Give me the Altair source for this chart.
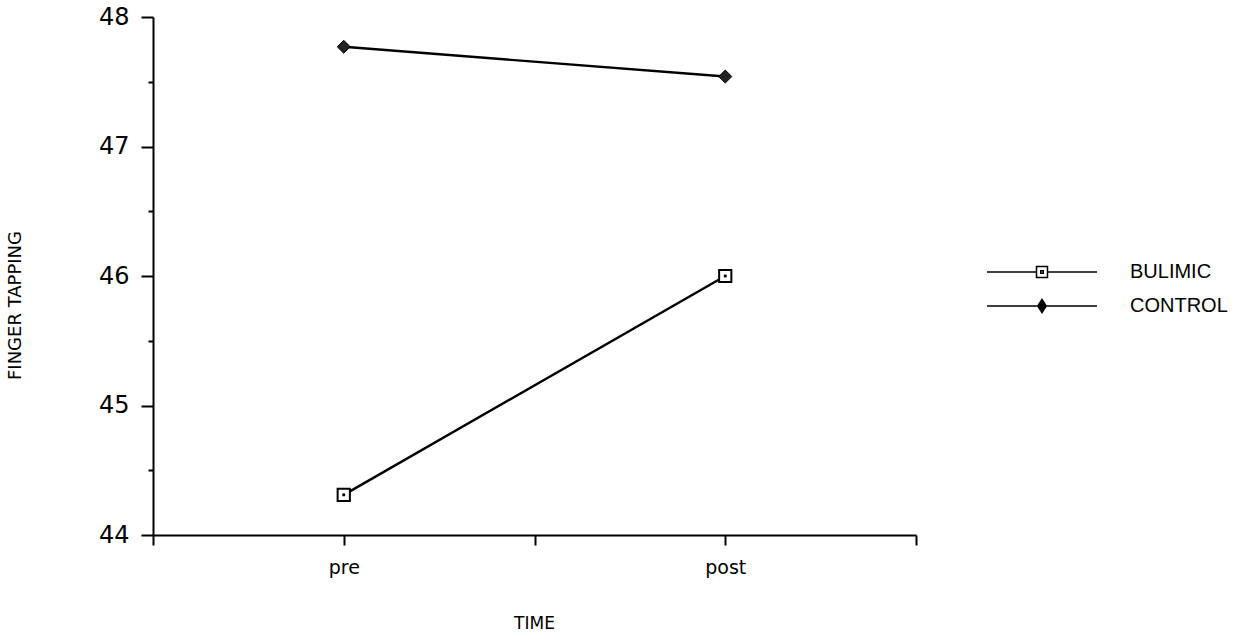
import altair as alt
import pandas as pd

# Mean finger-tapping scores by group at the two measurement times
TIME = ["pre", "post"]
GROUPS = ["BULIMIC", "CONTROL"]
BULIMIC = [44.31, 46.00]
CONTROL = [47.77, 47.54]

rows = []
for g, vals in zip(GROUPS, [BULIMIC, CONTROL]):
    for t, v in zip(TIME, vals):
        rows.append({"group": g, "time": t, "score": v})
df = pd.DataFrame(rows)

FONT = "DejaVu Sans"

# legend glyphs: a line segment with the group's marker in the middle
LEG_BULIMIC = ("M-5.5,0H-0.55M0.55,0H5.5M-0.55,-0.55H0.55V0.55H-0.55Z"
               "M-0.12,-0.12H0.12V0.12H-0.12Z")
LEG_CONTROL = ("M-5.5,0H-0.42M0.42,0H5.5M0,-0.65L0.42,0L0,0.65L-0.42,0Z")

base = alt.Chart(df).transform_calculate(
    xpos="indexof(['pre','post'], datum.time) * 2 + 1"
)

x_enc = alt.X(
    "xpos:Q",
    scale=alt.Scale(domain=[0, 4], nice=False, zero=False),
    axis=alt.Axis(
        values=[0, 1, 2, 3, 4],
        labelExpr="datum.value == 1 ? 'pre' : datum.value == 3 ? 'post' : ''",
        title="TIME",
        grid=False,
        domainColor="black",
        domainWidth=2,
        tickColor="black",
        tickWidth=2,
        tickSize=10,
        labelFont=FONT,
        labelFontSize=19,
        labelColor="black",
        labelPadding=13,
        titleFont=FONT,
        titleFontSize=17,
        titleFontWeight="normal",
        titleColor="black",
        titleX=381,
        titleY=88,
        titleBaseline="middle",
        titleAlign="center",
    ),
)

y_enc = alt.Y(
    "score:Q",
    scale=alt.Scale(domain=[44, 48], nice=False, zero=False),
    axis=alt.Axis(
        values=[44, 44.5, 45, 45.5, 46, 46.5, 47, 47.5, 48],
        labelExpr="datum.value % 1 == 0 ? format(datum.value, 'd') : ''",
        title="FINGER TAPPING",
        grid=False,
        domainColor="black",
        domainWidth=2,
        tickColor="black",
        tickWidth=2,
        tickSize={"condition": {"test": "datum.value % 1 == 0", "value": 12}, "value": 5},
        labelFont=FONT,
        labelFontSize=24,
        labelColor="black",
        labelPadding=12,
        titleFont=FONT,
        titleFontSize=18,
        titleFontWeight="normal",
        titleColor="black",
        titleAngle=270,
        titleX=-138,
        titleY=288,
        titleBaseline="middle",
        titleAlign="center",
    ),
)

lines = base.mark_line(color="black", strokeWidth=2.4).encode(
    x=x_enc, y=y_enc, detail="group:N"
)

squares = base.transform_filter("datum.group == 'BULIMIC'").mark_point(
    shape="square", size=150, filled=False, fill="white", fillOpacity=1,
    stroke="black", strokeWidth=2, opacity=1
).encode(x="xpos:Q", y="score:Q")

dots = base.transform_filter("datum.group == 'BULIMIC'").mark_point(
    shape="square", size=8, filled=True, color="black", opacity=1
).encode(x="xpos:Q", y="score:Q")

diamonds = base.transform_filter("datum.group == 'CONTROL'").mark_point(
    shape="diamond", size=170, filled=True, color="#222", opacity=1,
    stroke="black", strokeWidth=1
).encode(x="xpos:Q", y="score:Q")

leg = alt.Legend(
    title=None,
    orient="none",
    legendX=878,
    legendY=244,
    padding=0,
    symbolSize=400,
    symbolStrokeColor="black",
    symbolStrokeWidth=1.5,
    symbolOpacity=1,
    rowPadding=13,
    labelOffset=77,
    labelFont="Liberation Sans",
    labelFontSize=20,
    labelColor="black",
)

legend_layer = base.mark_point(opacity=0, strokeWidth=1.5).encode(
    x="xpos:Q",
    y="score:Q",
    shape=alt.Shape("group:N", scale=alt.Scale(domain=GROUPS, range=[LEG_BULIMIC, LEG_CONTROL]), legend=leg),
    fill=alt.Fill("group:N", scale=alt.Scale(domain=GROUPS, range=["white", "black"]), legend=leg),
    stroke=alt.Stroke("group:N", scale=alt.Scale(domain=GROUPS, range=["black", "black"]), legend=leg),
)

chart = alt.layer(lines, squares, dots, diamonds, legend_layer).properties(
    width=763,
    height=518,
    autosize=alt.AutoSizeParams(type="none"),
    padding={"left": 153, "top": 17, "right": 324, "bottom": 103},
    background="white",
).configure_view(stroke=None)

chart.save("out.html", embed_options={"renderer": "svg", "actions": False})
